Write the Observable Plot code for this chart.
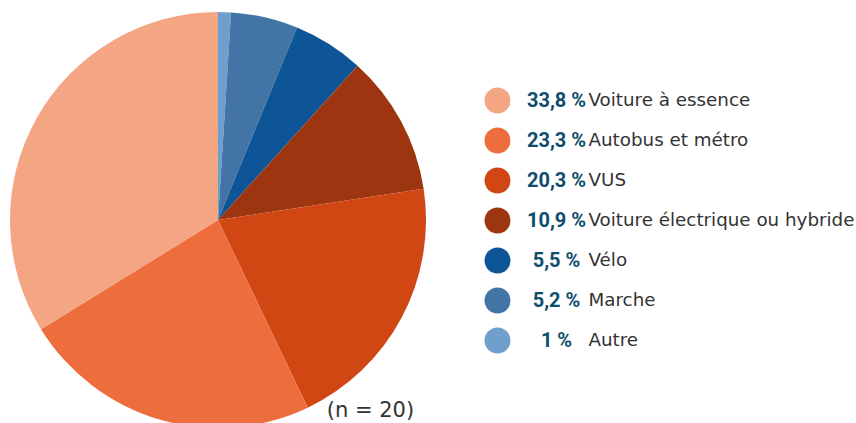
<!DOCTYPE html>
<html>
<head>
<meta charset="utf-8">
<script src="https://cdn.jsdelivr.net/npm/d3@7"></script>
<script src="https://cdn.jsdelivr.net/npm/@observablehq/plot@0.6"></script>
<style>
  html, body { margin: 0; padding: 0; background: #fff; overflow: hidden; }
  #chart { position: relative; width: 856px; height: 423px; overflow: hidden; }
  #chart svg { position: absolute; left: 0; top: 0; overflow: visible; }
</style>
</head>
<body>
<div id="chart"></div>
<script>
// Categories in legend order
const labels = ["Voiture à essence", "Autobus et métro", "VUS", "Voiture électrique ou hybride", "Vélo", "Marche", "Autre"];
const values = [33.8, 23.3, 20.3, 10.9, 5.5, 5.2, 1];
const pctLabels = ["33,8 %", "23,3 %", "20,3 %", "10,9 %", "5,5 %", "5,2 %", "1 %"];
const colors = ["#F4A583", "#EE6D3C", "#D04714", "#9D3610", "#0E5597", "#4275A6", "#6F9FCA"];
const sampleNote = "(n = 20)";

const legend = labels.map((label, i) => ({label, value: values[i], pct: pctLabels[i]}));
// Slices drawn clockwise from 12 o'clock, smallest first
const slices = legend.slice().reverse();

const chart = document.getElementById("chart");

const pieMark = (index, scales) => {
  const cx = scales.x(0), cy = scales.y(0), R = scales.x(1) - scales.x(0);
  const arcs = d3.pie().sort(null).value(d => d.value)(slices);
  const g = d3.create("svg:g").attr("transform", `translate(${cx},${cy})`);
  g.selectAll("path").data(arcs).join("path")
    .attr("d", d3.arc().innerRadius(0).outerRadius(R))
    .attr("fill", d => scales.color(d.data.label));
  return g.node();
};

const pie = Plot.plot({
  width: 436, height: 440,
  marginLeft: 10, marginRight: 10, marginTop: 12, marginBottom: 12,
  x: {domain: [-1, 1], axis: null},
  y: {domain: [-1, 1], axis: null},
  color: {type: "ordinal", domain: labels, range: colors},
  marks: [
    Plot.dot(slices, {x: () => 0, y: () => 0, r: 0, fill: "label"}),
    pieMark
  ]
});
chart.appendChild(pie);

const leg = Plot.plot({
  width: 856, height: 423, margin: 0,
  x: {domain: [0, 1], axis: null},
  y: {type: "point", domain: labels, range: [96.7, 342.5], padding: 0, axis: null},
  color: {type: "ordinal", domain: labels, range: colors},
  style: {background: "transparent"},
  marks: [
    Plot.dot(legend, {y: "label", frameAnchor: "left", dx: 497, r: 13, fill: "label"}),
    Plot.text(legend, {y: "label", frameAnchor: "left", dx: 556, text: "pct", textAnchor: "middle",
      fontFamily: "Roboto", fontWeight: 700, fontSize: 20, fill: "#0E4E6D"}),
    Plot.text(legend, {y: "label", frameAnchor: "left", dx: 588, text: "label", textAnchor: "start",
      fontFamily: "DejaVu Sans", fontSize: 18.3, fill: "#333333"}),
    Plot.text([sampleNote], {frameAnchor: "top-left", dx: 370, dy: 410, text: d => d, textAnchor: "middle",
      fontFamily: "DejaVu Sans", fontSize: 21, fill: "#333333", lineAnchor: "middle"})
  ]
});
chart.appendChild(leg);
</script>
</body>
</html>
